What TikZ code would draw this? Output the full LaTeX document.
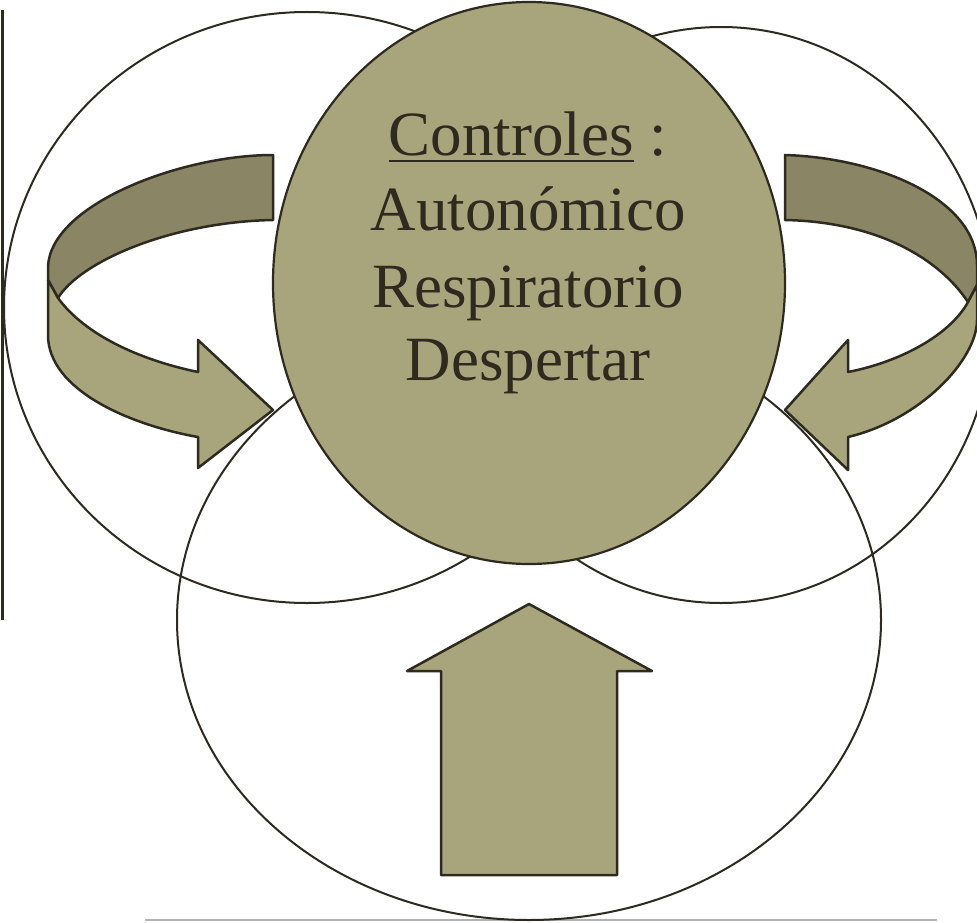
\documentclass[tikz,border=0pt]{standalone}
\usepackage{fontspec}
\setmainfont{Liberation Serif}
\definecolor{oliveL}{HTML}{A8A57C}
\definecolor{oliveD}{HTML}{8A8665}
\definecolor{inkc}{HTML}{2E2A20}
\begin{document}
\begin{tikzpicture}[x=1pt,y=-1pt,
  ring/.style={draw=inkc, line width=2pt},
  disc/.style={draw=inkc, fill=oliveL, line width=2.2pt},
  frontface/.style={draw=inkc, fill=oliveL, line width=2.5pt, line join=round},
  backface/.style={draw=inkc, fill=oliveD, line width=2.5pt, line join=round},
  lbl/.style={text=inkc, font=\fontsize{63}{76}\selectfont, anchor=base, inner sep=0pt}]
\useasboundingbox (0,0) rectangle (977,923);
\fill[white] (0,0) rectangle (977,923);
\clip (0,0) rectangle (977,923);
% side and bottom rules
\draw[draw=inkc, line width=3pt] (2,10) -- (2,620);
\draw[draw=black!30, line width=1.5pt] (145,920) -- (937,920);
% outline circles
\draw[ring] (307,307.5) ellipse [x radius=303pt, y radius=295.5pt];
\draw[ring] (721,315) ellipse [x radius=272pt, y radius=288pt];
\draw[ring] (529,620) ellipse [x radius=352pt, y radius=300pt];
% central filled circle
\draw[disc] (529,283) ellipse [x radius=256pt, y radius=281pt];
% left curved arrow
\draw[backface] (273,155) .. controls (180,155) and (50,205) .. (48,267) -- (48,280) -- (58,298)
  .. controls (80,262) and (170,222) .. (273,220) -- cycle;
\draw[frontface] (48,280) -- (48,335) .. controls (48,390) and (130,425) .. (198,437)
  -- (198,468) -- (273,410) -- (198,340) -- (198,372)
  .. controls (140,360) and (85,335) .. (58,298) -- cycle;
% right curved arrow
\draw[backface] (785,155) .. controls (880,158) and (977,200) .. (977,265) -- (977,285) -- (968,302)
  .. controls (940,260) and (880,222) .. (785,220) -- cycle;
\draw[frontface] (977,285) -- (977,320) .. controls (977,360) and (920,420) .. (848,437)
  -- (848,470) -- (785,410) -- (848,340) -- (848,372)
  .. controls (900,362) and (950,335) .. (968,302) -- cycle;
% up arrow
\draw[frontface] (529,604) -- (652,671) -- (617,671) -- (617,875) -- (441,875) -- (441,671) -- (407,671) -- cycle;
% text
\node[lbl] (t1) at (528,155) {\setbox0\hbox{Controles}\rlap{\rule[-7.3pt]{\wd0}{2.6pt}}\box0\ :};
\node[lbl] (t2) at (528,230) {Autonómico};
\node[lbl] (t3) at (528,307) {Respiratorio};
\node[lbl] (t4) at (528,380) {Despertar};
\end{tikzpicture}
\end{document}
